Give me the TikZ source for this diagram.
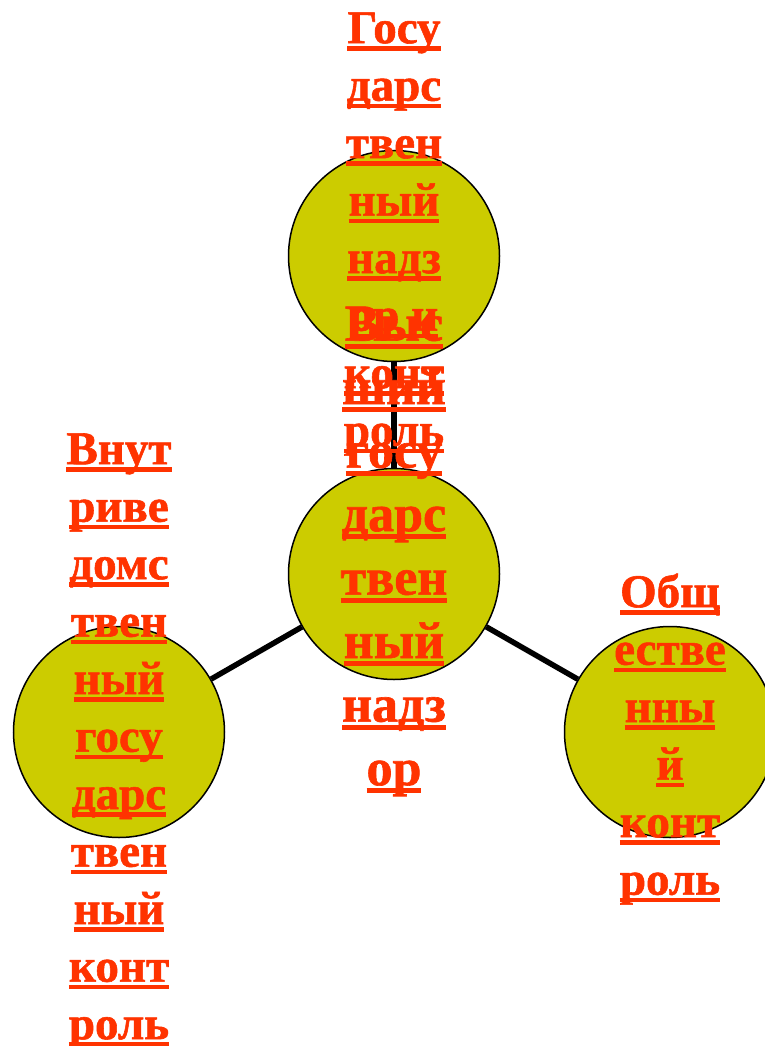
\documentclass[tikz,border=0pt]{standalone}
\usepackage{fontspec}
\setmainfont{Liberation Serif}
\newfontfamily\heavyfont{Liberation Serif Bold}[FakeBold=1.2]
\usetikzlibrary{backgrounds}
\definecolor{bulb}{RGB}{204,204,0}
\definecolor{redink}{RGB}{255,51,0}
\newsavebox\wordbox
% underlined word with a fixed rule under the baseline
\newcommand\uword[1]{\sbox\wordbox{#1}\rlap{\rule[-7.5pt]{\wd\wordbox}{4.5pt}}\usebox\wordbox\strut}
\newcommand\bigword[1]{\sbox\wordbox{#1}\rlap{\rule[-8.2pt]{\wd\wordbox}{5pt}}\usebox\wordbox\strut}
\lineskiplimit=-100pt
\tikzset{
    ball/.style={
        circle,
        draw=black, line width=1.5pt,
        fill=bulb,
        minimum size=211pt,
        inner sep=0pt
    },
    link/.style={draw, line width=5.5pt},
    lettering/.style={
        anchor=north,
        inner sep=0pt,
        align=center,
        text=redink,
        font=\heavyfont\fontsize{47}{57.5}\selectfont
    },
    bigletters/.style={
        lettering,
        font=\heavyfont\fontsize{52}{63.5}\selectfont
    }
}

\begin{document}
\begin{tikzpicture}[x=1pt, y=-1pt]
    \useasboundingbox (0,0) rectangle (765,1046);
    \node[ball] (state) at (394,256) {};
    \node[ball] (high) at (394,574) {};
    \node[ball] (inner) at (119,732) {};
    \node[ball] (public) at (670,732) {};

    \begin{scope}[on background layer]
        \fill[white] (0,0) rectangle (765,1046);
        \draw[link] (state) -- (high);
        \draw[link] (high) -- (inner);
        \draw[link] (high) -- (public);
    \end{scope}

    \node[lettering] (state text) at (394,2.75)
        {\uword{Госу}\\\uword{дарс}\\\uword{твен}\\\uword{ный}\\\uword{надз}\\\uword{ор и}\\\uword{конт}\\\uword{роль}};
    \node[bigletters] (high text) at (394,296)
        {\bigword{Выс}\\\bigword{ший}\\\bigword{госу}\\\bigword{дарс}\\\bigword{твен}\\\bigword{ный}\\\bigword{надз}\\\bigword{ор}};
    \node[lettering] (inner text) at (119,423.75)
        {\uword{Внут}\\\uword{риве}\\\uword{домс}\\\uword{твен}\\\uword{ный}\\\uword{госу}\\\uword{дарс}\\\uword{твен}\\\uword{ный}\\\uword{конт}\\\uword{роль}};
    \node[lettering] (public text) at (670,566.75)
        {\uword{Общ}\\\uword{естве}\\\uword{нны}\\\uword{й}\\\uword{конт}\\\uword{роль}};
\end{tikzpicture}
\end{document}
